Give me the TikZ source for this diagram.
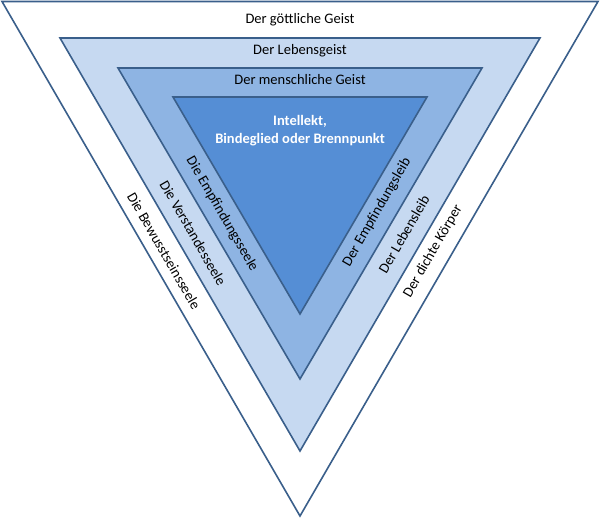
\documentclass[tikz,border=0pt]{standalone}
\usepackage{fontspec}
\setmainfont{Carlito}
\definecolor{edge}{HTML}{3A5F8B}
\definecolor{fillB}{HTML}{C6D9F1}
\definecolor{fillC}{HTML}{8EB4E3}
\definecolor{fillD}{HTML}{558ED5}
\begin{document}
\begin{tikzpicture}[x=1pt,y=-1pt,
  tri/.style={draw=edge,line width=1.6pt,line join=miter},
  lbl/.style={font=\fontsize{14.5}{17}\selectfont,inner sep=0pt,text=black},
  inlbl/.style={font=\fontsize{14.5}{18}\selectfont\bfseries,inner sep=0pt,text=white,align=center}]
\useasboundingbox (0,0) rectangle (600,518);
\fill[white] (0,0) rectangle (600,518);
% triangles
\draw[tri,fill=white] (2,1.5) -- (598,1.5) -- (300,516) -- cycle;
\draw[tri,fill=fillB] (60,38) -- (540,38) -- (300,451) -- cycle;
\draw[tri,fill=fillC] (118,68) -- (482,68) -- (300,379) -- cycle;
\draw[tri,fill=fillD] (173,97) -- (427,97) -- (300,314) -- cycle;
% top labels
\node[lbl] (g1) at (300,20) {Der göttliche Geist};
\node[lbl] (g2) at (300,51) {Der Lebensgeist};
\node[lbl] (g3) at (300,80) {Der menschliche Geist};
\node[inlbl] (i) at (300,131) {Intellekt,\\Bindeglied oder Brennpunkt};
% left labels
\node[lbl,rotate=-60] (s1) at (222,214) {Die Empfindungsseele};
\node[lbl,rotate=-60] (s2) at (193,233) {Die Verstandesseele};
\node[lbl,rotate=-60] (s3) at (164,251) {Die Bewusstseinsseele};
% right labels
\node[lbl,rotate=60] (l1) at (377,212) {Der Empfindungsleib};
\node[lbl,rotate=60] (l2) at (404,234) {Der Lebensleib};
\node[lbl,rotate=60] (l3) at (433,251) {Der dichte Körper};
\end{tikzpicture}
\end{document}
